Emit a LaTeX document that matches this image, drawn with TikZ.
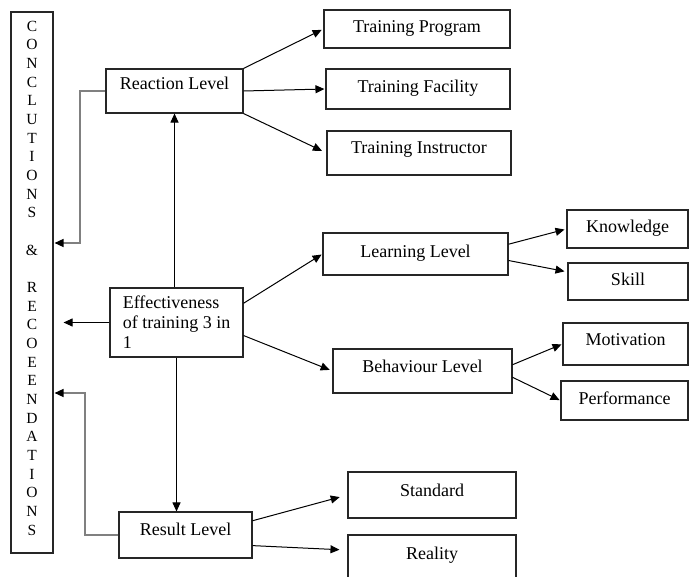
\documentclass[tikz,border=0pt]{standalone}
\usepackage{fontspec}
\setmainfont{Liberation Serif}
\usetikzlibrary{arrows.meta}

\begin{document}
\begin{tikzpicture}[
    x=1pt, y=-1pt,
    >={Triangle[length=9pt, width=8pt]},
    box/.style={draw=black!85, line width=1.1pt, inner sep=0pt, font=\fontsize{18}{20}\selectfont},
    lvl/.style={box, text height=12pt, text depth=4pt},
    every edge/.append style={line width=1pt},
    back/.style={draw=black!50, line width=1.4pt, -{Triangle[length=9pt, width=8pt, black]}, shorten >=1pt}
]
   \useasboundingbox (0,0) rectangle (691,577);
   \clip (0,0) rectangle (691,577);

   % Conclusions column
   \node[box, minimum width=42pt, minimum height=541pt] (concl) at (32,282.5) {};
   \node[font=\fontsize{15.5}{18.67}\selectfont, align=center, inner sep=0pt] (concltext) at (32,278)
      {C\\O\\N\\C\\L\\U\\T\\I\\O\\N\\S\\[18.67pt]\&\\[18.67pt]R\\E\\C\\O\\E\\E\\N\\D\\A\\T\\I\\O\\N\\S};

   % Centre box
   \node[box, minimum width=133pt, minimum height=69pt, align=left] (eff) at (176.5,322.5) {Effectiveness\\of training 3 in\\1};

   % Levels
   \node[lvl, minimum width=137pt, minimum height=44pt, text depth=14pt] (react) at (174.5,91) {Reaction Level};
   \node[lvl, minimum width=185pt, minimum height=42pt] (learn) at (415.5,254) {Learning Level};
   \node[lvl, minimum width=179pt, minimum height=44pt, text depth=8pt] (behav) at (422.5,371) {Behaviour Level};
   \node[lvl, minimum width=133pt, minimum height=46pt, text depth=12pt] (result) at (185.5,535) {Result Level};

   % Reaction items
   \node[lvl, minimum width=186pt, minimum height=38pt] (prog) at (417,29) {Training Program};
   \node[lvl, minimum width=184pt, minimum height=40pt] (facil) at (418,89) {Training Facility};
   \node[lvl, minimum width=184pt, minimum height=44pt, text depth=10pt] (instr) at (419,153) {Training Instructor};

   % Learning and behaviour items
   \node[lvl, minimum width=121pt, minimum height=38pt] (know) at (627.5,229) {Knowledge};
   \node[lvl, minimum width=120pt, minimum height=37pt] (skill) at (628,281.5) {Skill};
   \node[lvl, minimum width=125pt, minimum height=42pt, text depth=8pt] (motiv) at (625.5,344) {Motivation};
   \node[lvl, minimum width=127pt, minimum height=39pt] (perf) at (624.5,400.5) {Performance};

   % Result items
   \node[lvl, minimum width=168pt, minimum height=46pt, text depth=10pt] (stand) at (432,495) {Standard};
   \node[lvl, minimum width=168pt, minimum height=45pt, text depth=9pt] (real) at (432,557.5) {Reality};

   % Arrows
   \path[->]
   (react.north east) edge[shorten >=2pt] (prog.west)
   (react.east) edge[shorten >=1pt] (facil.west)
   (react.south east) edge[shorten >=5pt] (instr.west)

   (eff.north -| react) edge (react.south)
   (eff.16) edge[shorten >=1pt] (learn.west)
   (eff.-11) edge[shorten >=3pt] (behav.west)
   (eff.south) edge (eff.south |- result.north)
   (eff.west) edge[shorten >=10pt] (eff.west -| concl.east)

   (learn.6) edge[shorten >=2pt] (know.west)
   (learn.-4) edge[shorten >=3pt] (skill.171)
   (behav.4) edge[shorten >=1pt] (motiv.west)
   (behav.-4) edge[shorten >=1pt] (perf.west)

   (result.12) edge[shorten >=8pt] (stand.west)
   (result.-9) edge[shorten >=8pt] (real.175);

   % Back to conclusions
   \coordinate (rbend) at (80,243);
   \coordinate (sbend) at (85,393);
   \draw[back] (react.west) -| (rbend) -- (rbend -| concl.east);
   \draw[back] (result.west) -| (sbend) -- (sbend -| concl.east);

\end{tikzpicture}
\end{document}
